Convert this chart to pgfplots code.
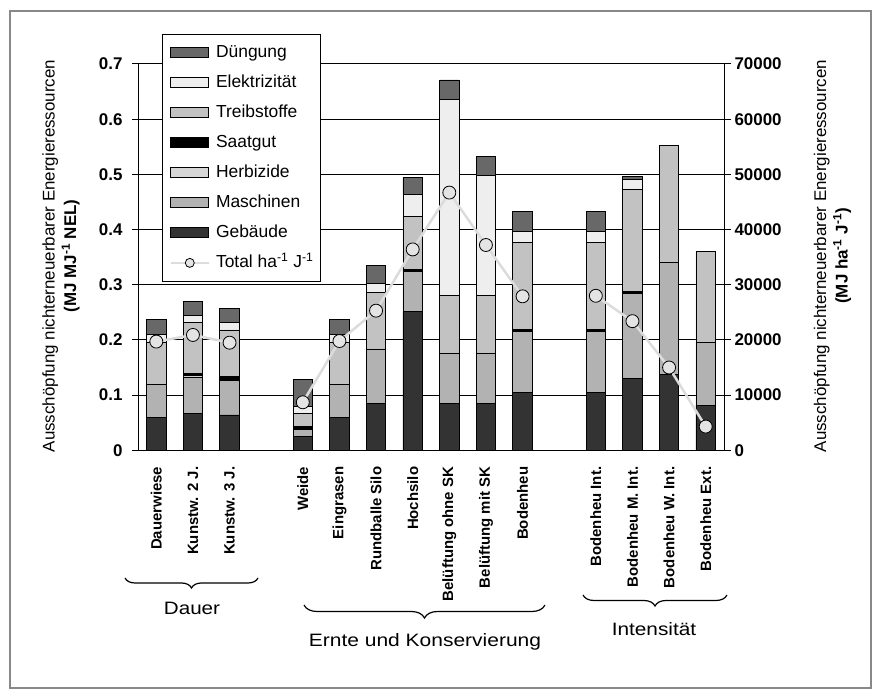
\documentclass[border=0pt]{standalone}
\usepackage{fontspec}
\setmainfont{Liberation Sans}
\usepackage{pgfplots}
\pgfplotsset{compat=1.18}
\usepackage{pgfplotstable}
\usetikzlibrary{decorations.pathreplacing}

\definecolor{cDueng}{HTML}{686868}
\definecolor{cElek}{HTML}{EEEEEE}
\definecolor{cTreib}{HTML}{C2C2C2}
\definecolor{cSaat}{HTML}{000000}
\definecolor{cHerb}{HTML}{D6D6D6}
\definecolor{cMasch}{HTML}{B2B2B2}
\definecolor{cGeb}{HTML}{333333}
\definecolor{cLine}{HTML}{DCDCDC}
\definecolor{cMark}{HTML}{E4E4E4}
\definecolor{cFrame}{HTML}{888888}

\pgfplotstableread{
x Geb Masch Herb Saat Treib Elek Dueng
0 0.060 0.0596 0 0 0.0754 0.015 0.027
1 0.067 0.066 0.002 0.005 0.092 0.013 0.024
2 0.064 0.063 0.002 0.005 0.084 0.014 0.025
4 0.0245 0.0135 0 0.0045 0.0245 0.012 0.049
5 0.060 0.0596 0 0 0.0754 0.015 0.027
6 0.085 0.0985 0 0 0.102 0.017 0.033
7 0.251 0.0726 0 0.0043 0.0966 0.0393 0.0308
8 0.085 0.0907 0 0 0.1056 0.3547 0.035
9 0.085 0.0907 0 0 0.1056 0.2162 0.0355
10 0.105 0.1099 0 0.0043 0.1576 0.0205 0.0362
12 0.105 0.1099 0 0.0043 0.1576 0.0205 0.0362
13 0.1304 0.154 0 0.0042 0.1844 0.018 0.0047
14 0.1377 0.2029 0 0 0.2124 0 0
15 0.082 0.1137 0 0 0.1653 0 0
}\bars

\pgfplotstableread{
x T
0 19700
1 20900
2 19500
3 nan
4 8700
5 19800
6 25300
7 36400
8 46700
9 37200
10 27900
11 nan
12 28000
13 23400
14 15000
15 4300
}\tot

\pgfplotsset{
  mybar/.style={fill=#1, draw=black, line width=0.8bp,
    legend image code/.code={\draw[fill=#1, draw=black, line width=0.8bp] (0bp,-5bp) rectangle (38bp,5bp);}},
}

\begin{document}
\begin{tikzpicture}
\useasboundingbox (0bp,0bp) rectangle (880bp,699bp);
\draw[cFrame, line width=1.3bp] (10bp,11bp) rectangle (871bp,688bp);

\begin{axis}[
  at={(138bp,248.7bp)}, anchor=south west,
  scale only axis, width=586bp, height=386.3bp,
  xmin=-0.5, xmax=15.5, ymin=0, ymax=0.7,
  ybar stacked, bar width=0.53,
  axis x line*=bottom, axis y line*=left,
  axis line style={line width=1bp, black},
  xtick={0,1,2,4,5,6,7,8,9,10,12,13,14,15},
  xticklabels={Dauerwiese,Kunstw. 2 J.,Kunstw. 3 J.,Weide,Eingrasen,Rundballe Silo,Hochsilo,Belüftung ohne SK,Belüftung mit SK,Bodenheu,Bodenheu Int.,Bodenheu M. Int.,Bodenheu W. Int.,Bodenheu Ext.},
  xtick style={draw=none},
  xticklabel style={rotate=90, anchor=east, font=\bfseries\fontsize{15}{15}\selectfont},
  xticklabel shift=7bp,
  ytick={0,0.1,0.2,0.3,0.4,0.5,0.6,0.7},
  yticklabels={0,0.1,0.2,0.3,0.4,0.5,0.6,0.7},
  yticklabel style={font=\bfseries\fontsize{17}{17}\selectfont},
  yticklabel shift=6bp,
  tick align=outside, major tick length=6bp,
  ytick style={line width=1bp, black},
  ymajorgrids, major grid style={black, line width=1bp},
  reverse legend,
  legend cell align=left,
  legend style={at={(axis description cs:0.041,1.078)}, anchor=north west,
    draw=black, line width=1bp, fill=white,
    font=\fontsize{17.5}{20}\selectfont,
    row sep=13bp, inner xsep=7bp, inner ysep=10bp,
    nodes={text height=13bp, text depth=4bp, inner ysep=0bp, inner xsep=0bp},
    /tikz/every odd column/.append style={column sep=6bp}},
]
\addlegendimage{legend image code/.code={\draw[cLine, line width=2.5bp] (0bp,0bp) -- (38bp,0bp); \draw[fill=cMark, draw=black, line width=0.8bp] (19bp,0bp) circle (4.5bp);}}
\addlegendentry{Total ha\textsuperscript{-1} J\textsuperscript{-1}}
\addplot[mybar=cGeb] table[x=x,y=Geb]{\bars};
\addlegendentry{Gebäude}
\addplot[mybar=cMasch] table[x=x,y=Masch]{\bars};
\addlegendentry{Maschinen}
\addplot[mybar=cHerb] table[x=x,y=Herb]{\bars};
\addlegendentry{Herbizide}
\addplot[mybar=cSaat] table[x=x,y=Saat]{\bars};
\addlegendentry{Saatgut}
\addplot[mybar=cTreib] table[x=x,y=Treib]{\bars};
\addlegendentry{Treibstoffe}
\addplot[mybar=cElek] table[x=x,y=Elek]{\bars};
\addlegendentry{Elektrizität}
\addplot[mybar=cDueng] table[x=x,y=Dueng]{\bars};
\addlegendentry{Düngung}
\end{axis}

\begin{axis}[
  at={(138bp,248.7bp)}, anchor=south west,
  scale only axis, width=586bp, height=386.3bp,
  xmin=-0.5, xmax=15.5, ymin=0, ymax=70000,
  axis x line=none, axis y line*=right,
  axis line style={line width=1bp, black},
  scaled y ticks=false,
  ytick={0,10000,20000,30000,40000,50000,60000,70000},
  yticklabels={0,10000,20000,30000,40000,50000,60000,70000},
  yticklabel style={font=\bfseries\fontsize{17}{17}\selectfont},
  tick align=outside, major tick length=7bp,
  ytick style={line width=1bp, black},
  unbounded coords=jump,
]
\addplot[cLine, line width=2.5bp, mark=*, mark size=6.5bp,
  mark options={fill=cMark, draw=black, line width=0.8bp}] table[x=x,y=T]{\tot};
\end{axis}

\node[rotate=90, align=center, font=\fontsize{17}{21.5}\selectfont] at (61bp,443bp)
  {Ausschöpfung nichterneuerbarer Energieressourcen\\\textbf{(MJ MJ\textsuperscript{-1} NEL)}};
\node[rotate=90, align=center, font=\fontsize{17}{21.5}\selectfont] at (832.5bp,443bp)
  {Ausschöpfung nichterneuerbarer Energieressourcen\\\textbf{(MJ ha\textsuperscript{-1} J\textsuperscript{-1})}};

\draw[black, line width=1.2bp, decorate, decoration={brace, mirror, amplitude=10bp}] (125bp,121bp) -- (258bp,121bp);
\node[font=\fontsize{18}{20}\selectfont] at (192bp,91bp) {\scalebox{1.15}[1]{Dauer}};
\draw[black, line width=1.2bp, decorate, decoration={brace, mirror, amplitude=13bp}] (304bp,94bp) -- (545bp,94bp);
\node[font=\fontsize{18}{20}\selectfont] at (425bp,57bp) {\scalebox{1.17}[1]{Ernte und Konservierung}};
\draw[black, line width=1.2bp, decorate, decoration={brace, mirror, amplitude=11bp}] (583bp,104bp) -- (727bp,104bp);
\node[font=\fontsize{18}{20}\selectfont] at (654bp,70bp) {\scalebox{1.16}[1]{Intensität}};
\end{tikzpicture}
\end{document}
